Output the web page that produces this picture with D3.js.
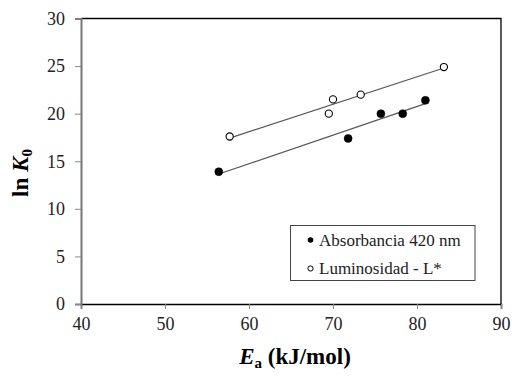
<!DOCTYPE html>
<html>
<head>
<meta charset="utf-8">
<script src="https://cdn.jsdelivr.net/npm/d3@7"></script>
<style>
  body { margin: 0; background: #fff; }
  svg, svg text { font-family: "Liberation Serif", "Times New Roman", serif; }
</style>
</head>
<body>
<svg id="chart" width="512" height="376"></svg>
<script>
// 데이터
const absEa = [56.4, 71.8, 75.7, 78.3, 81.0];
const absLnK = [13.9, 17.4, 20.0, 20.0, 21.4];
const lumEa = [57.7, 69.5, 70.0, 73.3, 83.2];
const lumLnK = [17.6, 20.0, 21.5, 22.0, 24.9];
const xTicks = [40, 50, 60, 70, 80, 90];
const yTicks = [0, 5, 10, 15, 20, 25, 30];

// 선형회귀 (추세선)
function fit(xs, ys) {
  const mx = d3.mean(xs), my = d3.mean(ys);
  let sxy = 0, sxx = 0;
  xs.forEach((x, i) => { sxy += (x - mx) * (ys[i] - my); sxx += (x - mx) * (x - mx); });
  const b = sxy / sxx;
  return x => my + b * (x - mx);
}

const serif = '"Liberation Serif", "Times New Roman", serif';
const svg = d3.select("#chart");
const margin = { top: 18.5, right: 11, bottom: 72, left: 81 };
const width = 512 - margin.left - margin.right;
const height = 376 - margin.top - margin.bottom;

const x = d3.scaleLinear().domain([40, 90]).range([0, width]);
const y = d3.scaleLinear().domain([0, 30]).range([height, 0]);

const g = svg.append("g").attr("transform", `translate(${margin.left},${margin.top})`);

// 테두리 (위, 오른쪽)
g.append("path")
  .attr("d", `M0,0H${width}V${height}`)
  .attr("fill", "none").attr("stroke", "#000").attr("stroke-width", 1.3);

// x축
const xAxis = g.append("g").attr("transform", `translate(0,${height})`)
  .call(d3.axisBottom(x).tickValues(xTicks).tickSize(5).tickPadding(8));
xAxis.attr("font-family", serif).attr("font-size", 18);
xAxis.select(".domain").attr("stroke", "#000").attr("stroke-width", 1.5);
xAxis.selectAll(".tick line").attr("stroke", "#888");
xAxis.selectAll("text").attr("fill", "#222");

// y축
const yAxis = g.append("g")
  .call(d3.axisLeft(y).tickValues(yTicks).tickSize(6).tickPadding(10));
yAxis.attr("font-family", serif).attr("font-size", 18);
yAxis.select(".domain").attr("stroke", "#777").attr("stroke-width", 2);
yAxis.selectAll(".tick line").attr("stroke", "#888");
yAxis.selectAll("text").attr("fill", "#222");

// 추세선
const series = [
  { xs: absEa, ys: absLnK, filled: true },
  { xs: lumEa, ys: lumLnK, filled: false }
];
series.forEach(s => {
  const f = fit(s.xs, s.ys);
  const x0 = d3.min(s.xs), x1 = d3.max(s.xs);
  g.append("line")
    .attr("x1", x(x0)).attr("y1", y(f(x0)))
    .attr("x2", x(x1)).attr("y2", y(f(x1)))
    .attr("stroke", "#555").attr("stroke-width", 1.2);
});

// 점
series.forEach(s => {
  g.selectAll(null)
    .data(s.xs.map((v, i) => [v, s.ys[i]]))
    .enter().append("circle")
    .attr("cx", d => x(d[0]))
    .attr("cy", d => y(d[1]))
    .attr("r", s.filled ? 4 : 3.6)
    .attr("fill", s.filled ? "#000" : "#fff")
    .attr("stroke", "#000")
    .attr("stroke-width", s.filled ? 0.5 : 1.1);
});

// 범례
const lg = svg.append("g").attr("transform", "translate(290.5,225.5)");
lg.append("rect").attr("width", 184.5).attr("height", 55)
  .attr("fill", "#fff").attr("stroke", "#444").attr("stroke-width", 1);
lg.append("circle").attr("cx", 20).attr("cy", 14.5).attr("r", 2.8).attr("fill", "#000");
lg.append("circle").attr("cx", 20).attr("cy", 43).attr("r", 2.6)
  .attr("fill", "#fff").attr("stroke", "#000").attr("stroke-width", 1);
lg.append("text").attr("x", 28.5).attr("y", 20).style("font-size", "17px").attr("fill", "#222")
  .text("Absorbancia 420 nm");
lg.append("text").attr("x", 28.5).attr("y", 48.5).style("font-size", "17px").attr("fill", "#222")
  .text("Luminosidad - L*");

// 축 제목
const xt = svg.append("text")
  .attr("x", margin.left + width / 2 + 4).attr("y", 364)
  .attr("text-anchor", "middle")
  .style("font-size", "23px").style("font-weight", "bold");
xt.append("tspan").style("font-style", "italic").text("E");
xt.append("tspan").attr("dy", 4).style("font-size", "15px").text("a");
xt.append("tspan").attr("dy", -4).text(" (kJ/mol)");

const yt = svg.append("text")
  .attr("transform", `translate(28,${173}) rotate(-90)`)
  .attr("text-anchor", "middle")
  .style("font-size", "23px").style("font-weight", "bold");
yt.append("tspan").text("ln ");
yt.append("tspan").style("font-style", "italic").text("K");
yt.append("tspan").attr("dy", 4).style("font-size", "15px").text("0");
</script>
</body>
</html>
